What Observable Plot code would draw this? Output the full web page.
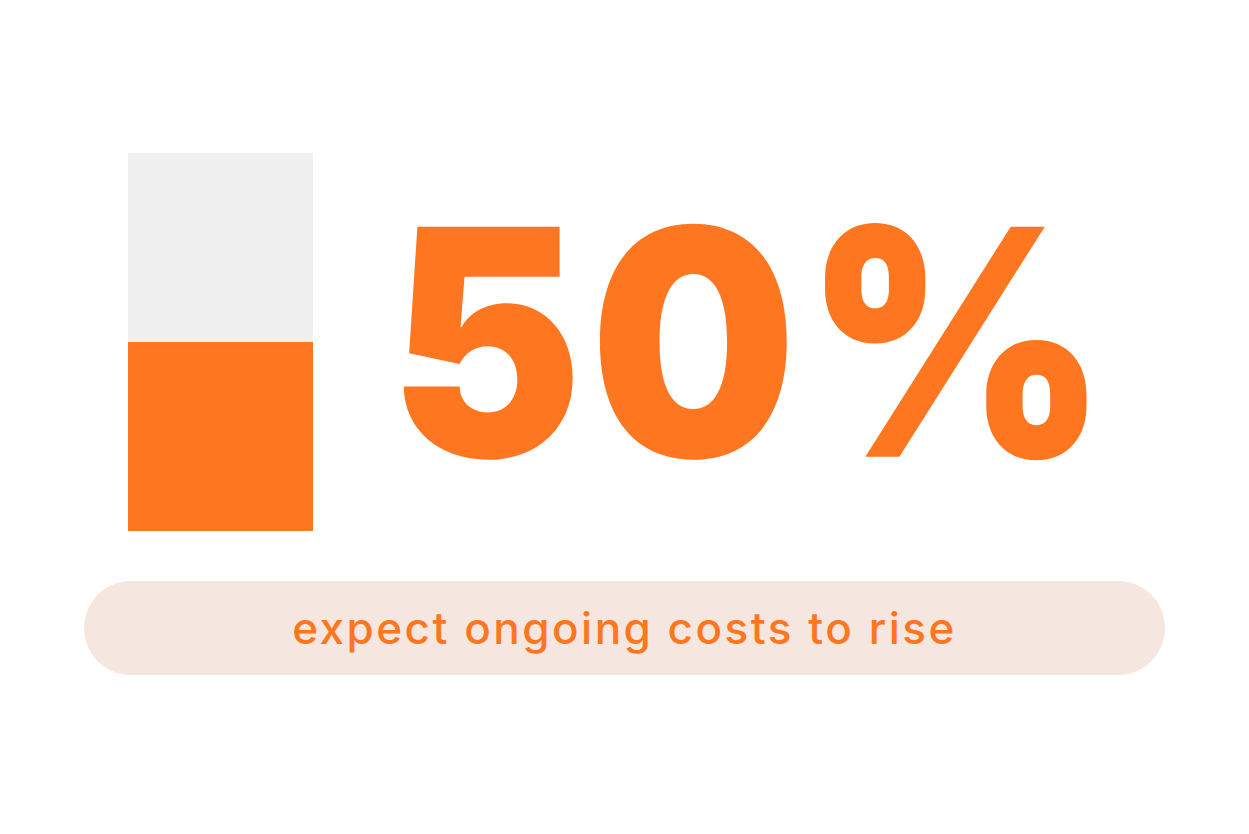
<!DOCTYPE html>
<html>
<head>
<meta charset="utf-8">
<script src="https://cdn.jsdelivr.net/npm/d3@7"></script>
<script src="https://cdn.jsdelivr.net/npm/@observablehq/plot@0.6"></script>
<style>
  html, body { margin: 0; padding: 0; background: #ffffff; }
  #wrap { width: 1249px; height: 834px; position: relative; overflow: hidden; }
  #chart svg { display: block; }
  #pill {
    position: absolute; left: 84px; top: 581px; width: 1081px; height: 94px;
    border-radius: 47px; background: #f5e7df; color: #ff7621;
    font-family: Inter, "Noto Sans", sans-serif; font-size: 44px; font-weight: 500;
    display: flex; align-items: center; justify-content: center; letter-spacing: 2.5px;
  }
</style>
</head>
<body>
<div id="wrap">
  <div id="chart"></div>
  <div id="pill"></div>
</div>
<script>
const categories = ["share"];
const totalValues = [100];
const shareValues = [50];
const valueLabels = ["50%"];
const captionText = "expect ongoing costs to rise";

const orange = "#ff7621";
const gray = "#f0f0f0";

const totals = categories.map((c, i) => ({category: c, value: totalValues[i]}));
const shares = categories.map((c, i) => ({category: c, value: shareValues[i], label: valueLabels[i]}));

const chart = Plot.plot({
  width: 1249,
  height: 570,
  margin: 0,
  x: {type: "band", domain: categories, range: [128, 313], padding: 0, axis: null},
  y: {domain: [0, 100], range: [531, 153], axis: null},
  style: {background: "transparent"},
  marks: [
    Plot.barY(totals, {x: "category", y: "value", fill: gray}),
    Plot.barY(shares, {x: "category", y: "value", fill: orange}),
    Plot.text(shares, {
      x: "category",
      y: "value",
      text: "label",
      textAnchor: "start",
      dx: 168,
      dy: 13,
      fill: orange,
      fontFamily: "Inter",
      fontWeight: 900,
      fontSize: 316,
      lineAnchor: "middle",
      className: "bignum"
    })
  ]
});
// narrow the big figure slightly to match the condensed display face
d3.select(chart).selectAll("g.bignum text").each(function() {
  const t = d3.select(this);
  const tr = t.attr("transform") || "";
  t.attr("transform", tr + " scale(0.92,1)").style("letter-spacing", "8px");
});
document.getElementById("chart").appendChild(chart);
document.getElementById("pill").textContent = captionText;
</script>
</body>
</html>
